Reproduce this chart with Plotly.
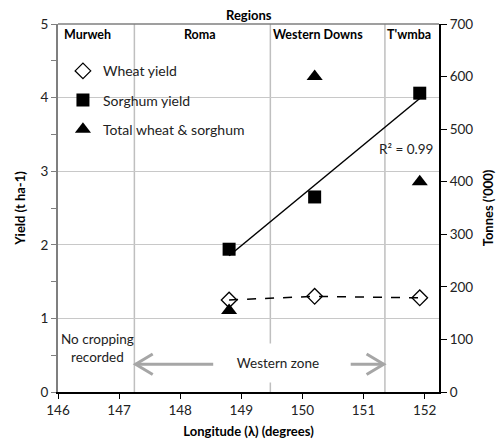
import numpy as np
import plotly.graph_objects as go

# ---- data ----
longitude = [148.8, 150.2, 151.92]
wheat_yield = [1.25, 1.30, 1.28]
sorghum_yield = [1.94, 2.65, 4.06]
total_tonnes = [155, 600, 400]

region_names = ["Murweh", "Roma", "Western Downs", "T'wmba"]
region_label_x = [146.48, 148.32, 150.25, 151.75]
region_bounds = [147.25, 149.475, 151.35]

FONT = "Lato"

# linear trend for sorghum
slope, intercept = np.polyfit(longitude, sorghum_yield, 1)
trend_x = [min(longitude), max(longitude)]
trend_y = [slope * v + intercept for v in trend_x]

fig = go.Figure()

fig.add_trace(go.Scatter(
    x=longitude, y=wheat_yield, mode="lines", showlegend=False,
    line=dict(color="black", width=1.5, dash="dash")))
fig.add_trace(go.Scatter(
    x=longitude, y=wheat_yield, name="Wheat yield", mode="markers",
    marker=dict(symbol="diamond-open", size=12, color="black", line=dict(width=1.3)),
    legendgroup="a"))
fig.add_trace(go.Scatter(
    x=longitude, y=sorghum_yield, name="Sorghum yield", mode="markers",
    marker=dict(symbol="square", size=13, color="black"), legendgroup="b"))
fig.add_trace(go.Scatter(
    x=trend_x, y=trend_y, mode="lines", showlegend=False,
    line=dict(color="black", width=1.5)))
fig.add_trace(go.Scatter(
    x=longitude, y=total_tonnes, name="Total wheat & sorghum", mode="markers",
    marker=dict(symbol="triangle-up", size=14, color="black"), yaxis="y2",
    legendgroup="c"))

shapes = []
for b in region_bounds:
    shapes.append(dict(type="line", xref="x", yref="paper", x0=b, x1=b, y0=0, y1=1,
                       line=dict(color="#bfbfbf", width=1.5), layer="below"))
# top border
shapes.append(dict(type="line", xref="paper", yref="paper", x0=0, x1=1, y0=1, y1=1,
                   line=dict(color="#7f7f7f", width=1.5)))

# Western zone arrows
ay = 0.377
arrow_col = "#a6a6a6"
shapes.append(dict(type="line", xref="x", yref="y", x0=147.27, x1=148.54, y0=ay, y1=ay,
                   line=dict(color=arrow_col, width=3)))
shapes.append(dict(type="path", xref="x", yref="y",
                   path=f"M {147.27+0.28},{ay+0.14} L 147.27,{ay} L {147.27+0.28},{ay-0.14}",
                   line=dict(color=arrow_col, width=3)))
shapes.append(dict(type="line", xref="x", yref="y", x0=150.79, x1=151.33, y0=ay, y1=ay,
                   line=dict(color=arrow_col, width=3)))
shapes.append(dict(type="path", xref="x", yref="y",
                   path=f"M {151.33-0.28},{ay+0.14} L 151.33,{ay} L {151.33-0.28},{ay-0.14}",
                   line=dict(color=arrow_col, width=3)))

annotations = []
for name, xv in zip(region_names, region_label_x):
    annotations.append(dict(x=xv, y=1, xref="x", yref="paper", yanchor="middle", yshift=-10,
                            text=f"<b>{name}</b>", showarrow=False,
                            font=dict(family=FONT, size=12.5, color="black")))
annotations.append(dict(x=0.5, y=1, xref="paper", yref="paper", yanchor="middle", yshift=9,
                        text="<b>Regions</b>", showarrow=False,
                        font=dict(family=FONT, size=13, color="black")))
annotations.append(dict(x=146.65, y=0.6, xref="x", yref="y", text="No cropping<br>recorded",
                        showarrow=False, font=dict(family=FONT, size=13.5, color="#222")))
annotations.append(dict(x=149.6, y=0.39, xref="x", yref="y", text="Western zone",
                        showarrow=False, bgcolor="white", width=120, height=36,
                        font=dict(family=FONT, size=13.5, color="#222")))
annotations.append(dict(x=151.7, y=3.3, xref="x", yref="y", text="R² = 0.99",
                        showarrow=False, font=dict(family=FONT, size=13.5, color="#222")))

fig.update_layout(
    width=503, height=439,
    margin=dict(l=57.7, r=63.7, t=24.3, b=47.3),
    paper_bgcolor="white", plot_bgcolor="white",
    font=dict(family=FONT, size=13.5, color="#222"),
    showlegend=True,
    legend=dict(x=0.013, y=0.915, xanchor="left", yanchor="top", bgcolor="rgba(0,0,0,0)",
                font=dict(family=FONT, size=14, color="#222"), tracegroupgap=8),
    shapes=shapes, annotations=annotations,
    xaxis=dict(range=[146, 152.235], dtick=1, tick0=146, showgrid=False, zeroline=False,
               showline=True, linecolor="black", linewidth=1.5, automargin=False,
               ticks="outside", ticklen=5, tickcolor="black",
               title=dict(text="<b>Longitude (λ) (degrees)</b>", font=dict(size=13, color="black"), standoff=10)),
    yaxis=dict(range=[0, 5], dtick=1, showgrid=True, gridcolor="#c8c8c8", gridwidth=1.2,
               zeroline=False, showline=True, linecolor="#7f7f7f", linewidth=2, automargin=False,
               ticks="outside", ticklen=5, tickcolor="#7f7f7f",
               minor=dict(dtick=0.5, ticks="outside", ticklen=5, tickcolor="#7f7f7f", showgrid=False),
               title=dict(text="<b>Yield (t ha-1)</b>", font=dict(size=13, color="black"), standoff=12)),
    yaxis2=dict(range=[0, 700], dtick=100, overlaying="y", side="right", showgrid=False,
                zeroline=False, showline=True, linecolor="black", linewidth=2, automargin=False,
                ticks="outside", ticklen=6, tickcolor="black",
                title=dict(text="<b>Tonnes ('000)</b>", font=dict(size=13, color="black"), standoff=12)),
)

fig.write_html("out.html")
